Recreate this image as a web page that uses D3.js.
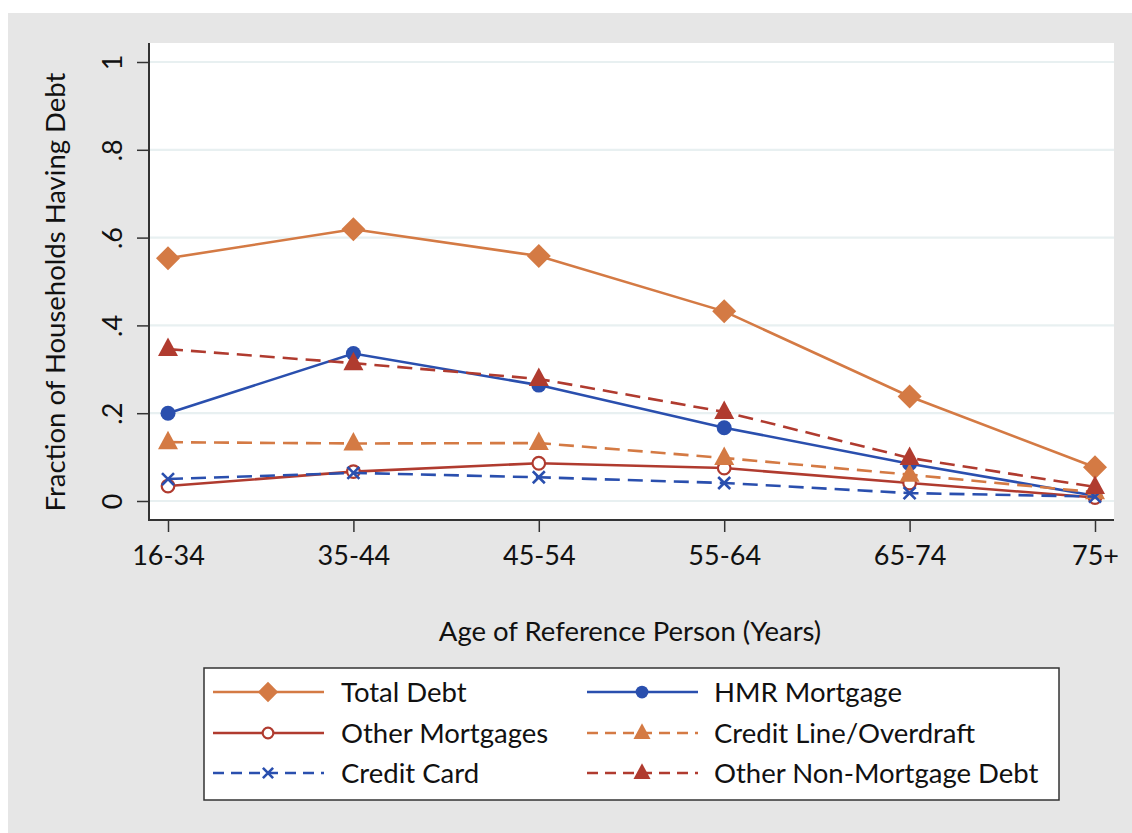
<!DOCTYPE html>
<html><head><meta charset="utf-8">
<script src="https://cdn.jsdelivr.net/npm/d3@7"></script>
<style>body{margin:0;background:#fff}svg{display:block}text{font-family:Lato,"Open Sans",sans-serif;fill:#111}</style>
</head><body>
<svg id="c" width="1132" height="833"></svg>
<script>
const categories = ["16-34","35-44","45-54","55-64","65-74","75+"];
const yTicks = [0,0.2,0.4,0.6,0.8,1];
const yTickLabels = ["0",".2",".4",".6",".8","1"];
const totalDebt = [0.553,0.619,0.558,0.432,0.238,0.077];
const hmrMortgage = [0.200,0.336,0.264,0.167,0.085,0.012];
const otherMortgages = [0.034,0.067,0.086,0.075,0.041,0.008];
const creditLine = [0.134,0.131,0.132,0.098,0.060,0.020];
const creditCard = [0.050,0.064,0.054,0.041,0.018,0.010];
const otherNonMortgage = [0.346,0.314,0.278,0.203,0.098,0.032];

const orange="#d47a44", blue="#2a4fae", red="#b03b2f";
const series = [
 {name:"Total Debt", values:totalDebt, color:orange, dash:null, marker:"diamond"},
 {name:"HMR Mortgage", values:hmrMortgage, color:blue, dash:null, marker:"circle"},
 {name:"Other Mortgages", values:otherMortgages, color:red, dash:null, marker:"ocircle"},
 {name:"Credit Line/Overdraft", values:creditLine, color:orange, dash:"15,8", marker:"triangle"},
 {name:"Credit Card", values:creditCard, color:blue, dash:"15,8", marker:"x"},
 {name:"Other Non-Mortgage Debt", values:otherNonMortgage, color:red, dash:"15,8", marker:"triangle"}
];

const svg = d3.select("#c");
svg.append("rect").attr("x",8).attr("y",13).attr("width",1124).attr("height",820).attr("fill","#e6e6e6");
const L=149, R=1114, T=43, B=519;
svg.append("rect").attr("x",L).attr("y",T).attr("width",R-L).attr("height",B-T).attr("fill","#fff");

const x = d3.scalePoint().domain(categories).range([168,1095]);
const y = d3.scaleLinear().domain([0,1]).range([501,62]);

// grid
svg.append("g").selectAll("line").data(yTicks).join("line")
 .attr("x1",L+1).attr("x2",R).attr("y1",d=>y(d)).attr("y2",d=>y(d))
 .attr("stroke","#e8f0f1").attr("stroke-width",2.2);

// axes
const yAxis = d3.axisLeft(y).tickValues(yTicks).tickFormat((d,i)=>yTickLabels[i]).tickSize(12).tickPadding(0);
const gy = svg.append("g").attr("transform",`translate(${L},0)`).call(yAxis);
gy.select(".domain").remove();
gy.selectAll(".tick line").attr("stroke","#333").attr("stroke-width",1.5);
gy.selectAll(".tick text").remove();
gy.selectAll(".tick").append("text").attr("transform","translate(-36,0) rotate(-90)")
 .attr("text-anchor","middle").attr("dy","0.35em").style("font-size","27px").attr("fill","#111")
 .text((d,i)=>yTickLabels[i]);
svg.append("line").attr("x1",L).attr("x2",L).attr("y1",T).attr("y2",B+1).attr("stroke","#333").attr("stroke-width",2);

const xAxis = d3.axisBottom(x).tickSize(12).tickPadding(14);
const gx = svg.append("g").attr("transform",`translate(0,${B+1})`).call(xAxis);
gx.select(".domain").remove();
gx.selectAll(".tick line").attr("stroke","#333").attr("stroke-width",1.5);
gx.selectAll(".tick text").style("font-size","27px").attr("fill","#111").attr("font-family","Lato");
svg.append("line").attr("x1",L-1).attr("x2",R).attr("y1",B+1).attr("y2",B+1).attr("stroke","#333").attr("stroke-width",2);

// titles
svg.append("text").attr("x",630).attr("y",641).attr("text-anchor","middle").style("font-size","27.5px").text("Age of Reference Person (Years)");
svg.append("text").attr("transform","translate(65,292) rotate(-90)").attr("text-anchor","middle").style("font-size","27.5px").text("Fraction of Households Having Debt");

function drawMarker(g, type, color, cx, cy, scale){
  scale = scale||1;
  if(type==="diamond"){
    const s=12*scale;
    g.append("path").attr("d",`M${cx},${cy-s}L${cx+s},${cy}L${cx},${cy+s}L${cx-s},${cy}Z`).attr("fill",color);
  } else if(type==="circle"){
    g.append("circle").attr("cx",cx).attr("cy",cy).attr("r",7.5*scale).attr("fill",color);
  } else if(type==="ocircle"){
    g.append("circle").attr("cx",cx).attr("cy",cy).attr("r",6.3*scale).attr("fill","#fff").attr("stroke",color).attr("stroke-width",2.2);
  } else if(type==="triangle"){
    const s=10*scale;
    g.append("path").attr("d",`M${cx},${cy-s*1.15}L${cx+s},${cy+s*0.7}L${cx-s},${cy+s*0.7}Z`).attr("fill",color);
  } else if(type==="x"){
    const s=6*scale;
    g.append("path").attr("d",`M${cx-s},${cy-s}L${cx+s},${cy+s}M${cx-s},${cy+s}L${cx+s},${cy-s}`).attr("stroke",color).attr("stroke-width",2.6).attr("fill","none");
  }
}

const line = d3.line().x((d,i)=>x(categories[i])).y(d=>y(d));
series.forEach(s=>{
  const g = svg.append("g");
  g.append("path").attr("d",line(s.values)).attr("fill","none").attr("stroke",s.color).attr("stroke-width",2.6)
   .attr("stroke-dasharray",s.dash);
  s.values.forEach((v,i)=>drawMarker(g,s.marker,s.color,x(categories[i]),y(v)));
});

// legend
const lg = svg.append("g");
lg.append("rect").attr("x",204).attr("y",668).attr("width",855).attr("height",132).attr("fill","#fff").attr("stroke","#333").attr("stroke-width",1.5);
const cols=[{lx:213,tx:341},{lx:587,tx:714}];
const rows=[692,733,773];
series.forEach((s,i)=>{
  const c=cols[i%2], ry=rows[Math.floor(i/2)];
  lg.append("line").attr("x1",c.lx).attr("x2",c.lx+111).attr("y1",ry).attr("y2",ry).attr("stroke",s.color).attr("stroke-width",2.6).attr("stroke-dasharray",s.dash?"11,7":null);
  drawMarker(lg,s.marker,s.color,c.lx+55,ry,0.85);
  lg.append("text").attr("x",c.tx).attr("y",ry).attr("dy","0.36em").style("font-size","27.5px").text(s.name);
});
</script>
</body></html>
